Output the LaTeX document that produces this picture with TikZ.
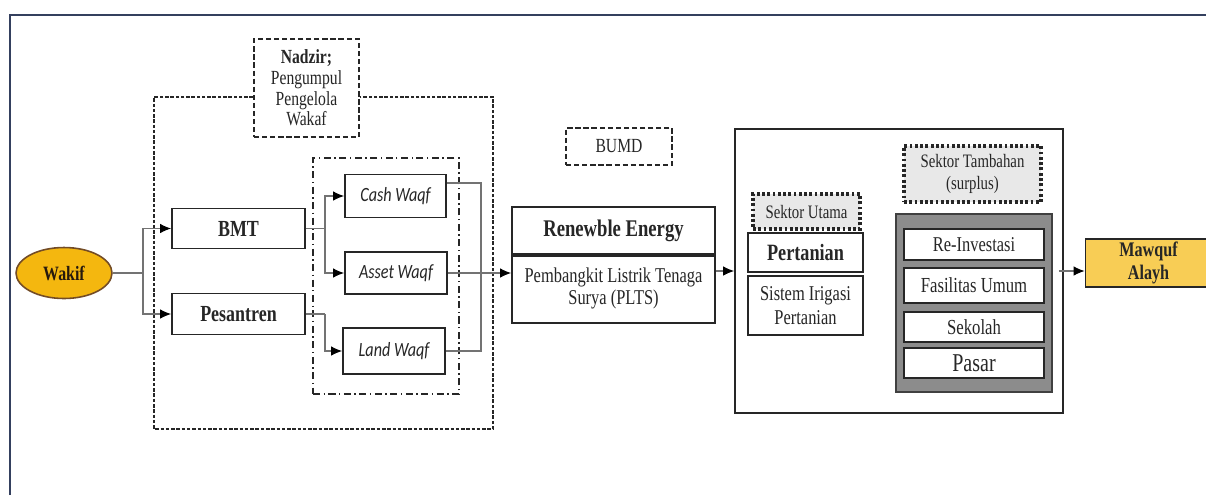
\documentclass[tikz,border=0pt]{standalone}
\usepackage{fontspec}
\setmainfont[FakeStretch=0.78]{Liberation Serif}
\newfontfamily\sansmiring[FakeStretch=0.8]{Carlito}
\usepackage{tikz}
\usetikzlibrary{shapes.geometric,arrows,arrows.meta,fit,positioning}

\definecolor{emas}{HTML}{F4B70F}
\definecolor{emasmuda}{HTML}{F8CD55}
\definecolor{bingkai}{HTML}{34405E}
\definecolor{abutua}{HTML}{8C8C8C}

\tikzset{
  kotak/.style={draw=black!85, line width=1pt, fill=white, inner sep=1pt, align=center, text=black!85},
  garis/.style={draw=black!55, line width=0.6pt},
  panah/.style={garis, -{Latex[length=2.2mm,width=1.9mm,color=black]}},
  sektor/.style={kotak, fill=black!9, line width=2pt, dash pattern=on 1.6pt off 1.4pt},
  kecil/.style={font=\fontsize{11.4}{11.8}\selectfont},
  besar/.style={font=\fontsize{13.1}{14}\selectfont\bfseries},
  miring/.style={font=\fontsize{11.5}{13}\sansmiring\itshape}
}

\begin{document}
\begin{tikzpicture}[x=0.02cm, y=-0.02cm]
\useasboundingbox (0,0) rectangle (1206,495);
% bingkai gambar
\draw [bingkai, line width=1.2pt] (10,495) -- (10,15) -- (1206,15);

% bagian kiri
\node [ellipse, draw=brown!60!black, line width=0.9pt, fill=emas, minimum width=1.92cm, minimum height=1.02cm, inner sep=0pt, font=\fontsize{11.6}{12}\selectfont\bfseries, text=black!80!brown] (wakif) at (64,273) {Wakif};
\node [kotak, besar, minimum width=2.66cm, minimum height=0.80cm] (bmt) at (238.5,228.5) {BMT};
\node [kotak, besar, minimum width=2.66cm, minimum height=0.82cm] (pesantren) at (238.5,314) {Pesantren};
\node [kotak, kecil, line width=1.3pt, dash pattern=on 3pt off 1.6pt, minimum width=2.10cm, minimum height=1.96cm] (nadzir) at (306.5,88) {\textbf{Nadzir;}\\Pengumpul\\Pengelola\\Wakaf};
\node [draw=black!85, line width=0.8pt, dash pattern=on 4pt off 2pt on 0.8pt off 2pt, minimum width=2.92cm, minimum height=4.72cm] (wadah) at (386,276) {};
\node [kotak, miring, minimum width=2.02cm, minimum height=0.86cm] (cash) at (395.5,196) {Cash Waqf};
\node [kotak, miring, minimum width=2.04cm, minimum height=0.84cm] (asset) at (396,273) {Asset Waqf};
\node [kotak, miring, minimum width=2.04cm, minimum height=0.92cm] (land) at (394,351) {Land Waqf};

% kotak luar nadzir
\coordinate (luarkiri) at (154,97);
\coordinate (luarkanan) at (493,97);
\draw [black!85, line width=0.8pt, dash pattern=on 2pt off 1pt] (nadzir.west |- luarkiri) -- (luarkiri) -- (154,429) -- (493,429) -- (luarkanan) -- (nadzir.east |- luarkanan);

% tengah
\node [kotak, kecil, line width=1.2pt, dash pattern=on 3pt off 1.6pt, minimum width=2.12cm, minimum height=0.74cm] (bumd) at (619,146.5) {BUMD};
\node [kotak, font=\fontsize{13.6}{14}\selectfont\bfseries, minimum width=4.06cm, minimum height=0.94cm] (energi) at (613.5,230.5) {Renewble Energy};
\node [kotak, font=\fontsize{12}{12.4}\selectfont, minimum width=4.06cm, minimum height=1.38cm] (plts) at (613.5,288.5) {Pembangkit Listrik Tenaga\\Surya (PLTS)};
\draw [black!85, line width=2pt] (energi.south west) -- (energi.south east);

% kanan
\node [kotak, minimum width=6.56cm, minimum height=5.68cm] (sektor) at (899,271) {};
\node [sektor, font=\fontsize{10.8}{12}\selectfont, minimum width=2.14cm, minimum height=0.70cm] (utama) at (806.5,211.5) {Sektor Utama};
\node [kotak, font=\fontsize{13.3}{14}\selectfont\bfseries, minimum width=2.30cm, minimum height=0.78cm] (pertanian) at (805.5,252.5) {Pertanian};
\node [kotak, font=\fontsize{12}{13.8}\selectfont, minimum width=2.30cm, minimum height=1.18cm] (irigasi) at (805.5,305.5) {Sistem Irigasi\\Pertanian};
\node [sektor, font=\fontsize{10.8}{12.3}\selectfont, minimum width=2.74cm, minimum height=1.12cm] (tambahan) at (972.5,174) {Sektor Tambahan\\(surplus)};
\node [draw=black!75, line width=1.2pt, fill=abutua, minimum width=3.12cm, minimum height=3.56cm] (surplus) at (974,303) {};
\node [kotak, font=\fontsize{12}{13}\selectfont, minimum width=2.80cm, minimum height=0.62cm] (investasi) at (974,244.5) {Re-Investasi};
\node [kotak, font=\fontsize{12.2}{13}\selectfont, minimum width=2.80cm, minimum height=0.70cm] (fasilitas) at (974,285.5) {Fasilitas Umum};
\node [kotak, font=\fontsize{12.2}{13}\selectfont, minimum width=2.80cm, minimum height=0.60cm] (sekolah) at (974,327) {Sekolah};
\node [kotak, font=\fontsize{14.6}{15}\selectfont, minimum width=2.80cm, minimum height=0.60cm] (pasar) at (974,363) {Pasar};
\node [kotak, fill=emasmuda, font=\fontsize{11.8}{13.3}\selectfont\bfseries, minimum width=2.52cm, minimum height=0.96cm] (mawquf) at (1148.5,263) {Mawquf\\Alayh};

% panah
\coordinate (cabang) at (143,273);
\coordinate (cabangbmt) at (325,228.5);
\coordinate (cabangpes) at (325,314);
\coordinate (kumpul) at (481,351);
\draw [garis] (wakif) -- (cabang);
\draw [panah] (cabang) |- (bmt);
\draw [panah] (cabang) |- (pesantren);
\draw [garis] (bmt) -- (cabangbmt);
\draw [panah] (cabangbmt) |- (cash);
\draw [panah] (cabangbmt) |- (asset);
\draw [garis] (pesantren) -- (cabangpes);
\draw [panah] (cabangpes) |- (land);
\draw [garis] ([yshift=0.26cm]cash.east) -| (kumpul) -- (land.east);
\draw [panah] (asset.east) -- (asset.east -| plts.west);
\draw [panah] (sektor.west -| plts.east) -- (sektor.west);
\draw [panah] ([xshift=-0.1cm]sektor.east) -- (sektor.east -| mawquf.west);
\end{tikzpicture}
\end{document}
